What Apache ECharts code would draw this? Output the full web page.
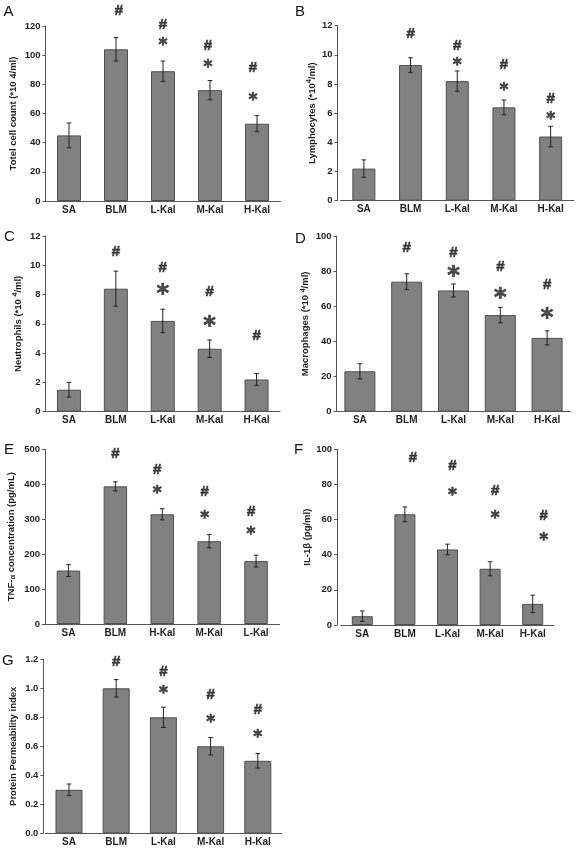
<!DOCTYPE html>
<html>
<head>
<meta charset="utf-8">
<script src="https://cdn.jsdelivr.net/npm/echarts@6/dist/echarts.min.js"></script>
<style>
html,body{margin:0;padding:0;background:#fff;}
#chart{width:578px;height:856px;}
</style>
</head>
<body>
<div id="chart"></div>
<script>
// ---------- data ----------
const categories  = ['SA', 'BLM', 'L-Kal', 'M-Kal', 'H-Kal'];
const categoriesE = ['SA', 'BLM', 'H-Kal', 'M-Kal', 'L-Kal'];

const valuesA = [45, 104, 89, 76, 53];
const errorsA = [8.5, 8, 7, 6.6, 5.5];
const hashA   = [null, 130.5, 121, 106.5, 91];
const starA   = [null, null, 109, 94, 71.5];

const valuesB = [2.2, 9.3, 8.2, 6.4, 4.4];
const errorsB = [0.6, 0.5, 0.7, 0.5, 0.7];
const hashB   = [null, 11.45, 10.65, 9.3, 7.0];
const starB   = [null, null, 9.5, 7.85, 5.85];

const valuesC = [1.5, 8.4, 6.2, 4.3, 2.2];
const errorsC = [0.5, 1.2, 0.8, 0.6, 0.4];
const hashC   = [null, 10.9, 9.85, 8.2, 5.15];
const starC   = [null, null, 8.35, 6.15, null];

const valuesD = [23, 74, 69, 55, 42];
const errorsD = [4.3, 4.5, 3.7, 4.4, 4];
const hashD   = [null, 93.4, 90.5, 82.2, 72.1];
const starD   = [null, null, 79.7, 67.7, 56];

const valuesE = [153, 394, 314, 237, 180];
const errorsE = [17, 13, 16, 19, 17];
const hashE   = [null, 488, 441, 379, 322];
const starE   = [null, null, 384, 314, 267];

const valuesF = [5, 63, 43, 32, 12];
const errorsF = [3, 4.2, 3, 4, 5];
const hashF   = [null, 95, 90.7, 76.5, 62.2];
const starF   = [null, null, 75.9, 62.6, 50.3];

const valuesG = [0.30, 1.00, 0.80, 0.60, 0.50];
const errorsG = [0.04, 0.06, 0.07, 0.06, 0.05];
const hashG   = [null, 1.184, 1.115, 0.954, 0.85];
const starG   = [null, null, 0.993, 0.793, 0.69];

// y-axis ranges / tick spacing
const yMaxA = 120, yStepA = 20;
const yMaxB = 12,  yStepB = 2;
const yMaxC = 12,  yStepC = 2;
const yMaxD = 100, yStepD = 20;
const yMaxE = 500, yStepE = 100;
const yMaxF = 100, yStepF = 20;
const yMaxG = 1.2, yStepG = 0.2;

// ---------- layout ----------
const FONT = '"Liberation Sans", Arial, Helvetica, sans-serif';
const STAR_FONT = '"DejaVu Sans", "Liberation Sans", sans-serif';
const AXIS_COLOR = '#555';
const TEXT_COLOR = '#1e1e1e';

const panels = [
  {letter:'A', cats:categories,  v:valuesA, e:errorsA, h:hashA, s:starA, max:yMaxA, step:yStepA, dec:0,
   grid:{left:45.5, top:26, width:235, height:175}, yOff:0, bw:24, nameGap:26.5, lx:9.5, ly:13, starSize:17, shift:[0,3,0,-2,-4],
   name:'{n|Totel cell count (*10 4/ml)}'},
  {letter:'B', cats:categories,  v:valuesB, e:errorsB, h:hashB, s:starB, max:yMaxB, step:yStepB, dec:0,
   grid:{left:340.5, top:25.7, width:233.5, height:175}, yOff:3, bw:23, nameGap:19, lx:301, ly:13, starSize:17, shift:[0,0,0,0,0],
   name:'{n|Lymphocytes (*10}{s|4}{n|/ml)}'},
  {letter:'C', cats:categories,  v:valuesC, e:errorsC, h:hashC, s:starC, max:yMaxC, step:yStepC, dec:0,
   grid:{left:45.5, top:236, width:234.5, height:175.7}, yOff:0, bw:24, nameGap:22, lx:10, ly:238, starSize:24, shift:[0,0,0,0,0],
   name:'{n|Neutrophils (*10 }{s|4}{n|/ml)}'},
  {letter:'D', cats:categories,  v:valuesD, e:errorsD, h:hashD, s:starD, max:yMaxD, step:yStepD, dec:0,
   grid:{left:336.5, top:236, width:234, height:175.7}, yOff:0, bw:31, nameGap:19.5, lx:301, ly:240, starSize:24, shift:[0,0,0,0,0],
   name:'{n|Macrophages (*10 }{s|4}{n|/ml)}'},
  {letter:'E', cats:categoriesE, v:valuesE, e:errorsE, h:hashE, s:starE, max:yMaxE, step:yStepE, dec:0,
   grid:{left:45, top:449.3, width:234.5, height:174.7}, yOff:0, bw:23.5, nameGap:28, lx:10, ly:451, starSize:17, shift:[0,0,-5,-4.5,-5],
   name:'{n|TNF-}{a|α}{n| concentration (pg/mL)}'},
  {letter:'F', cats:categories,  v:valuesF, e:errorsF, h:hashF, s:starF, max:yMaxF, step:yStepF, dec:0,
   grid:{left:341, top:449.3, width:213, height:175.7}, yOff:4, bw:21, nameGap:19.5, lx:300, ly:451, starSize:17, shift:[0,8,5,5,11],
   name:'{n|IL-1β (pg/ml)}'},
  {letter:'G', cats:categories,  v:valuesG, e:errorsG, h:hashG, s:starG, max:yMaxG, step:yStepG, dec:1,
   grid:{left:45.4, top:659.3, width:236, height:174}, yOff:2, bw:27, nameGap:25, lx:8, ly:662, starSize:17, shift:[0,0,0,0,0],
   name:'{n|Protein Permeability index}'}
];

const grids = [], xAxes = [], yAxes = [], series = [], graphics = [];

panels.forEach((p, i) => {
  grids.push(Object.assign({containLabel:false}, p.grid));
  xAxes.push({
    type:'category', gridIndex:i, data:p.cats, boundaryGap:true,
    axisLine:{show:true, lineStyle:{color:AXIS_COLOR, width:1}},
    axisTick:{show:false},
    axisLabel:{fontFamily:FONT, fontWeight:'bold', fontSize:10, color:TEXT_COLOR, margin:4, interval:0},
    splitLine:{show:false}
  });
  yAxes.push({
    type:'value', gridIndex:i, min:0, max:p.max, interval:p.step, offset:p.yOff,
    axisLine:{show:true, lineStyle:{color:AXIS_COLOR, width:1}},
    axisTick:{show:true, length:3, lineStyle:{color:AXIS_COLOR}},
    axisLabel:{fontFamily:FONT, fontWeight:'bold', fontSize:9.5, color:TEXT_COLOR, margin:5,
      formatter: v => (+v).toFixed(p.dec)},
    splitLine:{show:false},
    name:p.name, nameLocation:'middle', nameGap:p.nameGap,
    nameTextStyle:{
      fontFamily:FONT, fontWeight:'bold', fontSize:9, color:TEXT_COLOR,
      rich:{
        n:{fontFamily:FONT, fontWeight:'bold', fontSize:9.5, color:TEXT_COLOR, lineHeight:11},
        s:{fontFamily:FONT, fontWeight:'bold', fontSize:7, color:TEXT_COLOR, lineHeight:11, padding:[0,0,5,0]},
        a:{fontFamily:FONT, fontWeight:'bold', fontSize:7.5, color:TEXT_COLOR, lineHeight:11, padding:[3,0,0,0]}
      }
    }
  });
  // bars
  series.push({
    type:'bar', xAxisIndex:i, yAxisIndex:i, data:p.v, barWidth:p.bw,
    itemStyle:{color:'#818181', borderColor:'#4f4f4f', borderWidth:1},
    silent:true, animation:false
  });
  // error bars
  series.push({
    type:'custom', xAxisIndex:i, yAxisIndex:i, animation:false, silent:true, z:5,
    data:p.v.map((v, k) => [k, v - p.e[k], v + p.e[k]]),
    renderItem:(params, api) => {
      const lo = api.coord([api.value(0), api.value(1)]);
      const hi = api.coord([api.value(0), api.value(2)]);
      const c = 2.3;
      const st = {stroke:'#222', lineWidth:1};
      return {type:'group', children:[
        {type:'line', shape:{x1:lo[0], y1:lo[1], x2:hi[0], y2:hi[1]}, style:st},
        {type:'line', shape:{x1:hi[0]-c, y1:hi[1], x2:hi[0]+c, y2:hi[1]}, style:st},
        {type:'line', shape:{x1:lo[0]-c, y1:lo[1], x2:lo[0]+c, y2:lo[1]}, style:st}
      ]};
    }
  });
  // significance markers (text labels placed through the axes)
  const mk = (arr, ch, font, size, dy) => ({
    type:'scatter', xAxisIndex:i, yAxisIndex:i, clip:false, animation:false, silent:true, z:6,
    symbol:'circle', symbolSize:1, itemStyle:{color:'rgba(0,0,0,0)'},
    data:arr.map((y, k) => y == null ? null : {value:[k, y],
      label:{offset:[p.shift[k], dy]}}).filter(d => d),
    label:{show:true, position:'inside', formatter:ch, fontFamily:font, fontWeight:'bold',
      fontSize:size, color:'#222', textBorderColor:'#222', textBorderWidth:0.7}
  });
  series.push(mk(p.h, '#', FONT, 15, 0));
  series.push(mk(p.s, '*', STAR_FONT, p.starSize, p.starSize * 0.23));
  // panel letter
  graphics.push({type:'text', left:p.lx - 6, top:p.ly - 9,
    style:{text:p.letter, font:'15px ' + FONT, fill:'#111'}});
});

const chart = echarts.init(document.getElementById('chart'), null, {renderer:'canvas', width:578, height:856});
chart.setOption({
  animation:false,
  backgroundColor:'#fff',
  grid:grids, xAxis:xAxes, yAxis:yAxes, series:series, graphic:graphics
});
</script>
</body>
</html>
